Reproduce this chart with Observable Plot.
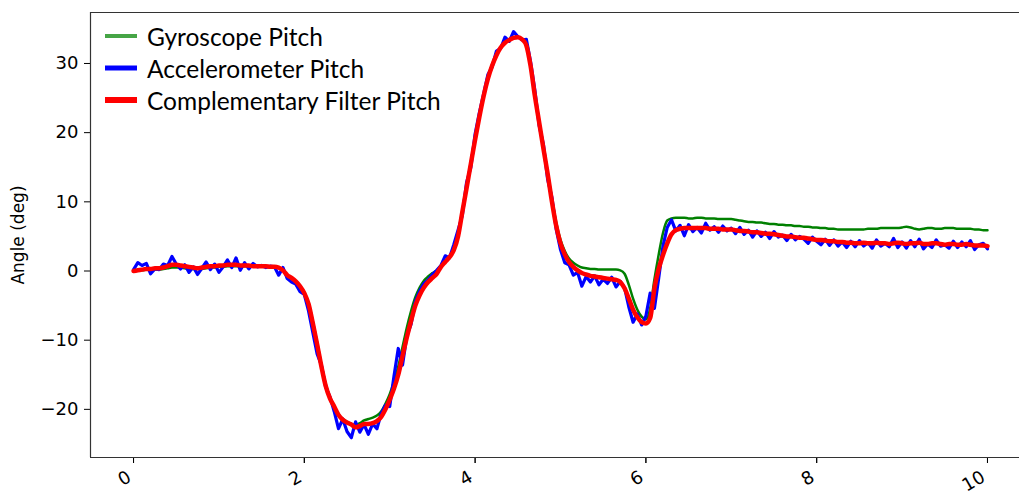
<!DOCTYPE html>
<html>
<head>
<meta charset="utf-8">
<script src="https://cdn.jsdelivr.net/npm/d3@7"></script>
<script src="https://cdn.jsdelivr.net/npm/@observablehq/plot@0.6"></script>
<style>
  html, body { margin: 0; padding: 0; background: #fff; }
  #wrap { position: relative; width: 1019px; height: 495px; }
  #legend { position: absolute; left: 105px; top: 20px; font-family: Lato, "Open Sans", sans-serif; font-size: 24.5px; color: #000; }
  .row { display: flex; align-items: center; height: 32px; }
  .sw { width: 32px; margin-right: 10px; }
  #wrap svg text { font-family: "DejaVu Sans", sans-serif; }
</style>
</head>
<body>
<div id="wrap"></div>
<script>
// ---- data (sampled every 0.05 s from 0 to 10 s) ----
const seriesNames = ["Gyroscope Pitch", "Accelerometer Pitch", "Complementary Filter Pitch"];
const seriesColors = ["green", "blue", "red"];
const legendColors = ["#46a546", "blue", "red"];
const xTicks = [0, 2, 4, 6, 8, 10];
const yTicks = [-20, -10, 0, 10, 20, 30];
const time = d3.range(201).map(i => +(i * 0.05).toFixed(2));

const gyroPitch = [
 0.0,0.1,0.1,0.2,0.2,0.2,0.2,0.3,0.4,0.5,
 0.5,0.5,0.4,0.3,0.3,0.3,0.3,0.4,0.5,0.5,
 0.6,0.6,0.7,0.7,0.7,0.7,0.7,0.7,0.7,0.7,
 0.7,0.7,0.7,0.6,0.5,0.1,-0.6,-1.0,-1.5,-2.2,
 -3.1,-4.6,-7.3,-10.3,-13.5,-16.3,-18.2,-19.5,-20.7,-21.4,
 -21.8,-22.1,-22.3,-22.0,-21.6,-21.4,-21.2,-20.9,-20.3,-19.2,
 -17.8,-16.0,-13.8,-11.0,-8.2,-5.8,-3.8,-2.4,-1.4,-0.8,
 -0.3,0.1,0.8,1.4,2.1,3.2,5.3,8.8,12.3,15.8,
 19.3,22.5,25.5,28.0,29.9,31.3,32.4,33.1,33.5,33.7,
 33.8,33.5,32.6,29.7,25.5,21.7,18.0,14.3,10.4,7.0,
 4.5,2.9,1.8,1.2,0.8,0.5,0.4,0.3,0.3,0.2,
 0.2,0.2,0.2,0.2,0.1,-0.4,-2.0,-4.0,-5.6,-6.6,
 -7.0,-5.4,-1.2,2.4,5.5,7.3,7.6,7.7,7.7,7.7,
 7.6,7.6,7.7,7.7,7.6,7.6,7.6,7.5,7.5,7.5,
 7.5,7.4,7.3,7.2,7.1,7.1,7.0,7.0,6.9,6.8,
 6.8,6.7,6.7,6.6,6.6,6.5,6.5,6.4,6.4,6.3,
 6.3,6.2,6.2,6.1,6.1,6.0,6.0,6.0,6.0,6.0,
 6.0,6.0,6.1,6.1,6.1,6.2,6.2,6.2,6.2,6.2,
 6.3,6.4,6.3,6.1,6.0,6.1,6.2,6.2,6.1,6.1,
 6.2,6.2,6.2,6.1,6.1,6.1,6.1,6.0,6.0,5.9,
 5.9
];

const accelPitch = [
 0.2,1.2,0.8,1.1,-0.4,0.3,0.2,1.0,0.8,2.1,
 1.0,0.3,0.9,-0.2,0.6,-0.5,0.4,1.3,0.2,1.0,
 -0.2,0.6,1.6,0.5,1.9,0.1,1.2,0.3,1.1,0.6,
 0.8,0.5,0.7,0.6,-0.6,0.5,-1.1,-1.6,-1.9,-3.0,
 -3.4,-5.8,-8.9,-12.0,-13.6,-16.8,-18.2,-20.3,-22.8,-21.4,
 -23.2,-24.1,-21.8,-23.3,-22.2,-23.6,-22.1,-22.8,-20.6,-19.4,
 -19.6,-15.2,-11.2,-13.6,-9.4,-7.7,-4.4,-2.9,-1.8,-1.3,
 -0.5,0.1,0.8,2.2,1.9,3.8,5.9,8.0,12.8,15.0,
 19.8,22.9,25.6,28.4,29.5,31.8,32.2,33.8,33.2,34.6,
 33.9,33.4,33.5,30.2,26.1,21.0,18.3,13.2,10.6,6.0,
 3.1,1.2,0.9,-0.6,-0.2,-2.2,-0.8,-1.6,-0.7,-2.0,
 -1.2,-1.8,-0.9,-2.3,-1.5,-2.4,-5.2,-7.4,-6.2,-7.8,
 -6.5,-3.2,-5.4,-1.0,3.6,6.3,7.4,5.8,6.6,5.1,
 6.7,5.7,6.3,5.5,6.9,5.9,6.4,5.6,6.5,5.8,
 6.2,5.4,6.3,5.3,5.9,4.9,5.8,5.0,5.6,4.7,
 5.7,4.9,5.2,4.4,5.3,4.5,5.0,4.6,4.0,4.9,
 4.3,3.8,4.6,3.7,4.5,3.6,4.2,3.4,4.3,3.5,
 4.4,3.6,4.1,3.3,4.5,3.6,4.0,3.5,4.7,3.4,
 4.2,3.3,4.4,3.5,4.6,3.2,3.9,3.4,4.5,3.6,
 3.8,3.3,4.3,3.4,4.2,3.5,4.4,3.1,3.8,4.0,
 3.2
];

const filterPitch = [
 0.0,0.1,0.2,0.3,0.3,0.4,0.4,0.5,0.7,0.9,
 0.9,0.8,0.7,0.6,0.5,0.4,0.5,0.6,0.7,0.7,
 0.8,0.8,0.9,0.9,0.9,0.8,0.8,0.8,0.7,0.7,
 0.7,0.7,0.6,0.6,0.5,0.1,-0.6,-1.0,-1.5,-2.2,
 -3.2,-4.8,-7.6,-10.6,-13.8,-16.6,-18.4,-19.6,-20.8,-21.5,
 -21.9,-22.2,-22.6,-22.4,-22.1,-22.1,-22.0,-21.7,-21.1,-20.0,
 -18.6,-17.0,-15.0,-12.3,-9.6,-7.2,-5.0,-3.5,-2.4,-1.6,
 -1.0,-0.4,0.6,1.3,2.0,3.0,5.0,8.5,12.0,15.5,
 19.0,22.3,25.3,27.8,29.7,31.2,32.3,33.0,33.4,33.7,
 33.8,33.5,32.6,29.6,25.3,21.5,17.7,14.0,10.0,6.5,
 4.0,2.4,1.3,0.6,0.1,-0.3,-0.5,-0.7,-0.8,-0.9,
 -1.0,-1.1,-1.2,-1.3,-1.6,-2.5,-4.0,-5.6,-6.7,-7.4,
 -7.6,-6.8,-2.5,0.3,2.3,4.0,5.3,5.9,6.1,6.2,
 6.2,6.2,6.2,6.2,6.2,6.1,6.1,6.1,6.0,6.0,
 6.0,5.9,5.8,5.8,5.7,5.6,5.6,5.5,5.4,5.4,
 5.3,5.2,5.1,5.0,5.0,4.9,4.8,4.8,4.7,4.6,
 4.5,4.5,4.4,4.3,4.3,4.2,4.2,4.1,4.1,4.0,
 4.0,4.1,4.0,4.0,4.1,4.0,4.0,3.9,4.0,4.1,
 4.0,3.9,4.0,4.0,4.1,3.9,3.9,4.0,4.0,3.9,
 3.8,3.9,3.9,3.8,3.8,3.9,3.8,3.7,3.7,3.7,
 3.6
];

// ---- build tables ----
const rows = s => time.map((t, i) => ({t, v: s[i]}));
const gyro = rows(gyroPitch), accel = rows(accelPitch), filt = rows(filterPitch);

const xDomain = [-0.504, 10.375];
const yDomain = [-26.96, 37.37];

const chart = Plot.plot({
  width: 1019,
  height: 495,
  marginLeft: 90,
  marginRight: 0,
  marginTop: 12,
  marginBottom: 38,
  x: {domain: xDomain},
  y: {domain: yDomain},
  style: {fontFamily: "'DejaVu Sans', sans-serif", fontSize: "18px", color: "#000", background: "#fff"},
  marks: [
    Plot.axisY({ticks: yTicks, tickSize: 6, tickPadding: 6, tickFormat: d3.format("d"), label: null, fontSize: 18}),
    Plot.axisX({ticks: xTicks, tickSize: 6, tickPadding: 9, tickRotate: -30, tickFormat: d3.format("d"), label: null, fontSize: 18}),
    Plot.axisX({ticks: xTicks, tickSize: 6, tickFormat: () => "", label: null}),
    Plot.ruleX([xDomain[0]], {stroke: "#333", strokeWidth: 1.2}),
    Plot.ruleY([yDomain[0], yDomain[1]], {stroke: "#333", strokeWidth: 1.2}),
    Plot.text(["Angle (deg)"], {frameAnchor: "left", textAnchor: "middle", rotate: -90, dx: -72, fontSize: 17, fill: "#000"}),
    Plot.line(gyro, {x: "t", y: "v", stroke: seriesColors[0], strokeWidth: 2.5, curve: "monotone-x"}),
    Plot.line(accel, {x: "t", y: "v", stroke: seriesColors[1], strokeWidth: 3.2}),
    Plot.line(filt, {x: "t", y: "v", stroke: seriesColors[2], strokeWidth: 4.5, curve: "monotone-x"})
  ]
});

// nudge the rotated x tick labels (matplotlib-style right/top alignment)
chart.querySelectorAll("g[aria-label='x-axis tick label'] text").forEach(t => {
  const tr = t.getAttribute("transform") || "";
  t.setAttribute("transform", tr.replace(/translate\(([^,]+),([^)]+)\)/, (m, a, b) => `translate(${+a - 4},${+b + 3})`));
});

const wrap = document.getElementById("wrap");
wrap.appendChild(chart);

const legend = document.createElement("div");
legend.id = "legend";
const widths = [4, 5, 6];
seriesNames.forEach((name, i) => {
  const row = document.createElement("div");
  row.className = "row";
  row.innerHTML = `<svg class="sw" width="32" height="10"><line x1="0" x2="32" y1="5" y2="5" stroke="${legendColors[i]}" stroke-width="${widths[i]}"/></svg><span>${name}</span>`;
  legend.appendChild(row);
});
wrap.appendChild(legend);
</script>
</body>
</html>
